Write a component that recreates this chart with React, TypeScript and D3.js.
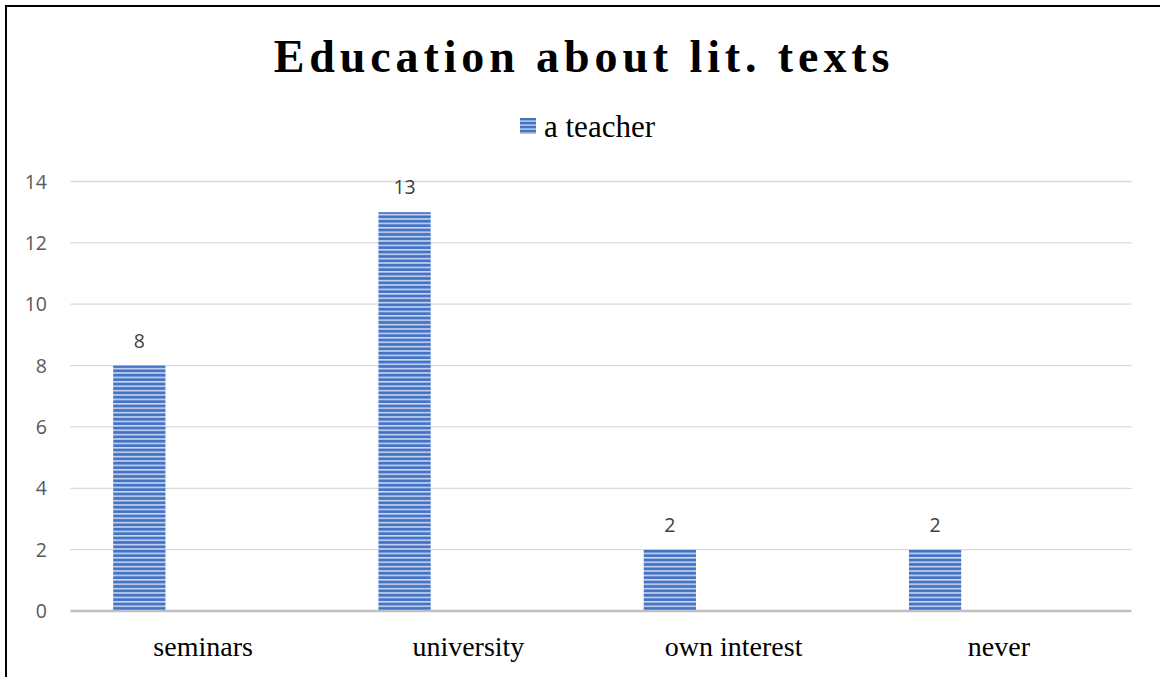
import React from "react";
import * as d3 from "d3";

const categories = ["seminars", "university", "own interest", "never"];
const values = [8, 13, 2, 2];
const seriesName = "a teacher";
const yTicks = [0, 2, 4, 6, 8, 10, 12, 14];
const title = "Education about lit. texts";

const W = 1160;
const H = 677;
const plot = { left: 70.5, right: 1131.5, top: 181.5, bottom: 611 };

export default function App() {
  const x = d3.scaleBand<string>().domain(categories).range([plot.left, plot.right]).padding(0);
  const y = d3.scaleLinear().domain([0, 14]).range([plot.bottom, plot.top]);
  const bw = x.bandwidth();
  const barOffset = bw * 0.161;
  const barW = bw * 0.197;

  return (
    <svg
      width={W}
      height={H}
      style={{ position: "absolute", left: 0, top: 0, display: "block", background: "#fff" }}
    >
      <defs>
        <pattern id="stripes" patternUnits="userSpaceOnUse" width={8} height={4.4}>
          <rect x={0} y={0} width={8} height={4.4} fill="#4472C4" />
          <rect x={0} y={2.6} width={8} height={1.6} fill="#c8d5ee" />
        </pattern>
        <pattern id="stripesLegend" patternUnits="userSpaceOnUse" width={8} height={4} y={118}>
          <rect x={0} y={0} width={8} height={4} fill="#4472C4" />
          <rect x={0} y={2.4} width={8} height={1.4} fill="#c8d5ee" />
        </pattern>
      </defs>
      <rect x={6} y={6} width={1300} height={900} fill="none" stroke="#000" strokeWidth={2} />

      <text
        x={584}
        y={72}
        textAnchor="middle"
        fontFamily="'Liberation Serif', 'Times New Roman', serif"
        fontWeight="bold"
        fontSize={46}
        letterSpacing={4.9}
        fill="#000"
      >
        {title}
      </text>

      <rect x={520} y={118} width={16} height={16} fill="url(#stripesLegend)" />
      <text
        x={544}
        y={137}
        fontFamily="'Liberation Serif', 'Times New Roman', serif"
        fontSize={31}
        fill="#000"
      >
        {seriesName}
      </text>

      {yTicks.map((t) => (
        <g key={t}>
          {t !== 0 && (
            <line x1={plot.left} x2={plot.right} y1={y(t)} y2={y(t)} stroke="#d9d9d9" strokeWidth={1.3} />
          )}
          <text
            x={47}
            y={y(t)}
            dy="0.36em"
            textAnchor="end"
            fontFamily="'Open Sans', sans-serif"
            fontSize={19.5}
            fill="#595959"
          >
            {t}
          </text>
        </g>
      ))}

      {categories.map((c, i) => (
        <g key={c}>
          <rect
            x={(x(c) as number) + barOffset}
            y={y(values[i])}
            width={barW}
            height={y(0) - y(values[i])}
            fill="url(#stripes)"
          />
          <text
            x={(x(c) as number) + barOffset + barW / 2}
            y={y(values[i]) - 18}
            textAnchor="middle"
            fontFamily="'Open Sans', sans-serif"
            fontSize={19.5}
            fill="#404040"
          >
            {values[i]}
          </text>
          <text
            x={(x(c) as number) + bw / 2}
            y={656}
            textAnchor="middle"
            fontFamily="'Liberation Serif', 'Times New Roman', serif"
            fontSize={28}
            fill="#000"
          >
            {c}
          </text>
        </g>
      ))}

      <line x1={plot.left} x2={plot.right} y1={y(0)} y2={y(0)} stroke="#bfbfbf" strokeWidth={2.5} />
    </svg>
  );
}
